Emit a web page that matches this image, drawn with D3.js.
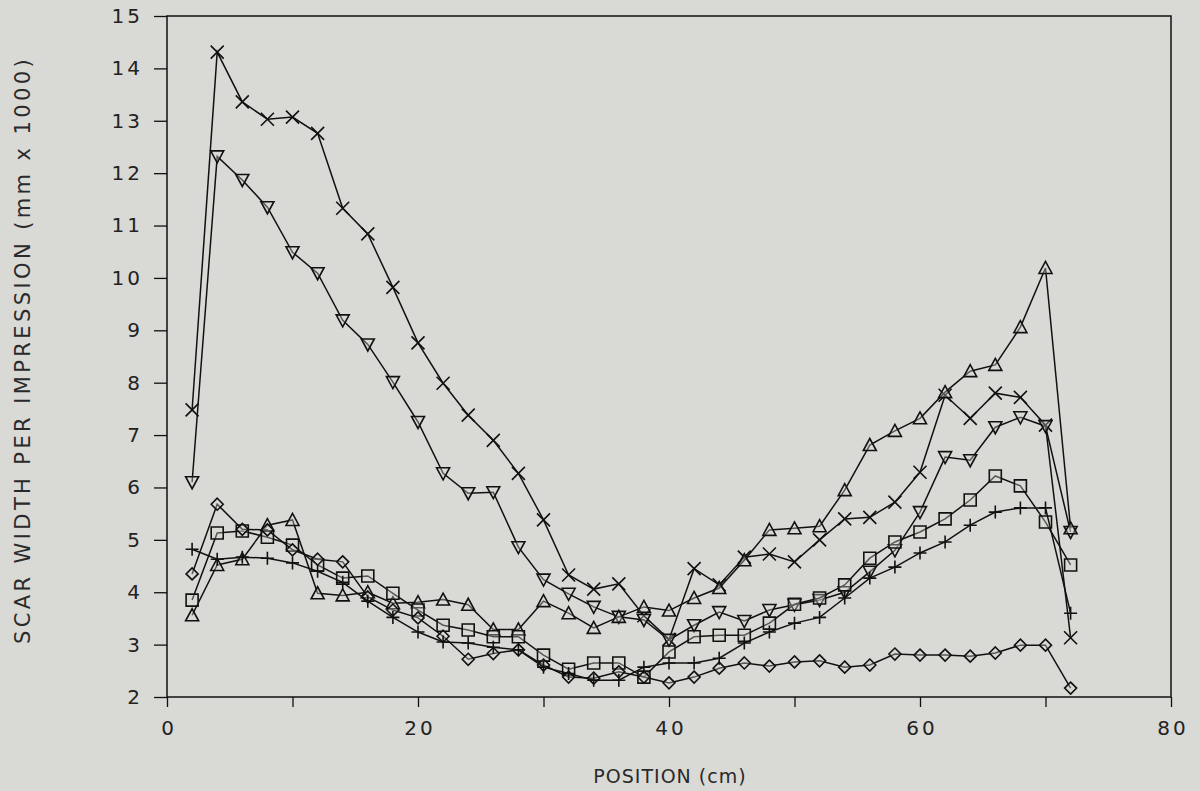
<!DOCTYPE html>
<meta charset="utf-8">
<style>
body { margin: 0; background: #d9d9d5; }
svg { display: block; }
.tick text { font-family: "DejaVu Sans", sans-serif; font-size: 20px; letter-spacing: 3px; fill: #222; }
.lbl { font-family: "DejaVu Sans", sans-serif; font-size: 19px; fill: #2a2a2a; }
</style>
<body>
<script src="https://cdnjs.cloudflare.com/ajax/libs/d3/7.8.5/d3.min.js"></script>
<script>

// positions (cm)
var positions = [2,4,6,8,10,12,14,16,18,20,22,24,26,28,30,32,34,36,38,40,42,44,46,48,50,52,54,56,58,60,62,64,66,68,70,72];

// series values (scar width per impression, mm x 1000)
var crossVals = [7.48,14.31,13.36,13.03,13.07,12.76,11.33,10.84,9.82,8.76,7.99,7.38,6.90,6.27,5.38,4.33,4.06,4.16,3.55,3.10,4.45,4.14,4.67,4.73,4.58,5.00,5.40,5.43,5.72,6.29,7.76,7.32,7.80,7.72,7.19,3.13];
var downTriVals = [6.10,12.32,11.87,11.35,10.49,10.09,9.19,8.73,8.01,7.25,6.27,5.89,5.91,4.86,4.24,3.97,3.72,3.53,3.47,3.09,3.37,3.62,3.45,3.66,3.76,3.85,4.00,4.39,4.80,5.53,6.58,6.52,7.15,7.34,7.17,5.15];
var upTriVals = [3.56,4.52,4.63,5.28,5.38,3.98,3.94,4.00,3.79,3.81,3.86,3.76,3.29,3.29,3.83,3.60,3.32,3.53,3.72,3.65,3.89,4.08,4.61,5.19,5.22,5.26,5.95,6.81,7.08,7.32,7.82,8.22,8.34,9.06,10.19,5.22];
var squareVals = [3.85,5.13,5.17,5.05,4.90,4.52,4.27,4.31,3.98,3.66,3.37,3.28,3.15,3.15,2.80,2.53,2.65,2.65,2.38,2.86,3.15,3.18,3.18,3.41,3.77,3.89,4.14,4.65,4.96,5.15,5.40,5.76,6.22,6.03,5.34,4.52];
var diamondVals = [4.35,5.68,5.20,5.19,4.81,4.63,4.58,3.91,3.66,3.51,3.16,2.72,2.83,2.90,2.61,2.38,2.36,2.48,2.38,2.27,2.38,2.55,2.65,2.59,2.67,2.69,2.57,2.61,2.82,2.80,2.80,2.78,2.84,2.99,2.99,2.17];
var plusVals = [4.82,4.63,4.67,4.65,4.56,4.40,4.19,3.83,3.52,3.24,3.05,3.03,2.95,2.90,2.57,2.45,2.32,2.32,2.57,2.65,2.65,2.74,3.03,3.24,3.41,3.52,3.89,4.27,4.48,4.75,4.96,5.28,5.53,5.61,5.61,3.60];

var xTicks = [0,10,20,30,40,50,60,70,80];
var xTickLabels = {0:"0",20:"20",40:"40",60:"60",80:"80"};
var yTicks = [2,3,4,5,6,7,8,9,10,11,12,13,14,15];

var margin = {top: 16, right: 29, bottom: 94, left: 167},
    width = 1200 - margin.left - margin.right,
    height = 791 - margin.top - margin.bottom;

var x = d3.scaleLinear().domain([0, 80]).range([0, width]);
var y = d3.scaleLinear().domain([2, 15]).range([height, 0]);

var svg = d3.select("body").append("svg")
    .attr("width", 1200)
    .attr("height", 791)
  .append("g")
    .attr("transform", "translate(" + margin.left + "," + margin.top + ")");

// frame
svg.append("rect")
    .attr("width", width).attr("height", height)
    .attr("fill", "none").attr("stroke", "#111").attr("stroke-width", 1.5);

// axes
var xAxis = svg.append("g")
    .attr("transform", "translate(0," + height + ")")
    .call(d3.axisBottom(x).tickValues(xTicks).tickSize(10).tickPadding(14)
      .tickFormat(function(d) { return xTickLabels[d] || ""; }));
xAxis.select(".domain").remove();
xAxis.selectAll("line").attr("stroke", "#111").attr("stroke-width", 1.3);
xAxis.selectAll("text").attr("dx", "1.5px");

var yAxis = svg.append("g")
    .call(d3.axisLeft(y).tickValues(yTicks).tickSize(13).tickPadding(11));
yAxis.select(".domain").remove();
yAxis.selectAll("line").attr("stroke", "#111").attr("stroke-width", 1.3);

// axis labels
svg.append("text")
    .attr("class", "lbl")
    .attr("text-anchor", "middle")
    .attr("transform", "translate(" + (width/2 + 1) + "," + (height + 86) + ")")
    .style("letter-spacing", "1px")
    .text("POSITION (cm)");

svg.append("text")
    .attr("class", "lbl")
    .attr("text-anchor", "middle")
    .attr("transform", "translate(" + (-137) + "," + (334) + ")rotate(-90)")
    .style("font-size", "21px")
    .style("letter-spacing", "3.4px")
    .text("SCAR WIDTH PER IMPRESSION (mm x 1000)");

var series = [
  {name: "cross", vals: crossVals},
  {name: "down", vals: downTriVals},
  {name: "up", vals: upTriVals},
  {name: "square", vals: squareVals},
  {name: "diamond", vals: diamondVals},
  {name: "plus", vals: plusVals}
];

var line = d3.line()
    .x(function(d) { return x(d[0]); })
    .y(function(d) { return y(d[1]); });

// symbol paths centred on 0,0
function markerPath(name) {
  var s = 6.5;
  if (name == "cross") return "M" + -s + "," + -s + "L" + s + "," + s + "M" + -s + "," + s + "L" + s + "," + -s;
  if (name == "plus") return "M" + -s + ",0L" + s + ",0M0," + -s + "L0," + s;
  if (name == "down") return "M" + -s + "," + (-s+1) + "L" + s + "," + (-s+1) + "L0," + (s) + "Z";
  if (name == "up") return "M" + -s + "," + (s-1) + "L" + s + "," + (s-1) + "L0," + (-s) + "Z";
  if (name == "square") return "M-6,-6L6,-6L6,6L-6,6Z";
  if (name == "diamond") return "M0,-6L6,0L0,6L-6,0Z";
}

series.forEach(function(sr) {
  var pts = positions.map(function(p, i) { return [p, sr.vals[i]]; });
  svg.append("path")
      .datum(pts)
      .attr("fill", "none")
      .attr("stroke", "#111")
      .attr("stroke-width", 1.5)
      .attr("d", line);

  svg.append("g")
    .selectAll("path")
      .data(pts)
    .enter().append("path")
      .attr("transform", function(d) { return "translate(" + x(d[0]) + "," + y(d[1]) + ")"; })
      .attr("d", markerPath(sr.name))
      .attr("fill", (sr.name == "cross" || sr.name == "plus") ? "none" : "#dcdcd8")
      .attr("fill-opacity", 0.35)
      .attr("stroke", "#111")
      .attr("stroke-width", 1.6);
});

</script>
</body>
